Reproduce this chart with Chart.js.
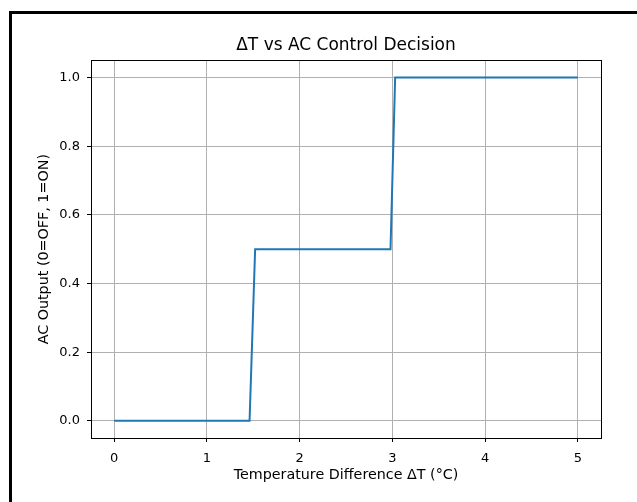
<!DOCTYPE html>
<html>
<head>
<meta charset="utf-8">
<script src="https://cdn.jsdelivr.net/npm/chart.js@4.4.1/dist/chart.umd.min.js"></script>
<style>
  html, body { margin: 0; padding: 0; background: #fff; }
  #wrap { position: relative; width: 637px; height: 502px; overflow: hidden; }
  #frame { position: absolute; left: 9px; top: 11px; width: 700px; height: 600px;
           border-left: 3px solid #000; border-top: 3px solid #000; }
  #myChart { position: absolute; left: 0; top: 0; }
</style>
</head>
<body>
<div id="wrap">
  <div id="frame"></div>
  <canvas id="myChart" width="637" height="502"></canvas>
</div>
<script>
const ctx = document.getElementById('myChart').getContext('2d');

// step points
const deltaT = [0, 1.46, 1.52, 2.98, 3.03, 5];
const acOutput = [0, 0, 0.5, 0.5, 1, 1];

const xTicks = [0, 1, 2, 3, 4, 5];
const yTicks = [0, 0.2, 0.4, 0.6, 0.8, 1.0];

const points = deltaT.map((x, i) => ({ x: x, y: acOutput[i] }));

const FONT = "'DejaVu Sans', sans-serif";

// box around the plot area (matplotlib spines)
const frameBox = {
    id: 'frameBox',
    afterDraw(chart) {
        const a = chart.chartArea;
        const c = chart.ctx;
        c.save();
        c.strokeStyle = '#000';
        c.lineWidth = 1;
        c.strokeRect(Math.round(a.left) + 0.5, Math.round(a.top) + 0.5,
                     Math.round(a.right - a.left), Math.round(a.bottom - a.top));
        c.restore();
    }
};

const config = {
    type: 'line',
    data: {
        datasets: [{
            data: points,
            borderColor: '#1f77b4',
            borderWidth: 2,
            pointRadius: 0,
            fill: false,
            tension: 0,
        }],
    },
    options: {
        responsive: false,
        animation: false,
        layout: { padding: { left: 0, right: 36, top: 0, bottom: 0 } },
        plugins: {
            legend: { display: false },
            tooltip: { enabled: false },
            title: {
                display: true,
                fullSize: false, // center over the plot area like matplotlib
                text: 'ΔT vs AC Control Decision',
                color: '#000',
                font: { family: FONT, size: 17, weight: 'normal', lineHeight: 1.2 },
                padding: { top: 35, bottom: 5 },
            },
        },
        scales: {
            x: {
                type: 'linear',
                min: -0.25,
                max: 5.25,
                afterBuildTicks: (s) => { s.ticks = xTicks.map(v => ({ value: v })); },
                afterFit: (s) => { s.height = 64; },
                ticks: {
                    color: '#000',
                    padding: 9,
                    font: { family: FONT, size: 13 },
                    callback: (v) => String(v),
                },
                grid: { color: '#b0b0b0', tickColor: '#000', tickLength: 4, lineWidth: 1 },
                border: { display: false },
                title: {
                    display: true,
                    text: 'Temperature Difference ΔT (°C)',
                    color: '#000',
                    font: { family: FONT, size: 14.3 },
                    padding: { top: 0, bottom: 18 },
                },
            },
            y: {
                min: -0.05,
                max: 1.05,
                afterBuildTicks: (s) => { s.ticks = yTicks.map(v => ({ value: v })); },
                afterFit: (s) => { s.width = 91; },
                ticks: {
                    color: '#000',
                    padding: 7,
                    font: { family: FONT, size: 13 },
                    callback: (v) => Number(v).toFixed(1),
                },
                grid: { color: '#b0b0b0', tickColor: '#000', tickLength: 4, lineWidth: 1 },
                border: { display: false },
                title: {
                    display: true,
                    text: 'AC Output (0=OFF, 1=ON)',
                    color: '#000',
                    font: { family: FONT, size: 14.3 },
                    padding: { top: 36, bottom: 0 },
                },
            },
        },
    },
    plugins: [frameBox],
};

const myChart = new Chart(ctx, config);
</script>
</body>
</html>
